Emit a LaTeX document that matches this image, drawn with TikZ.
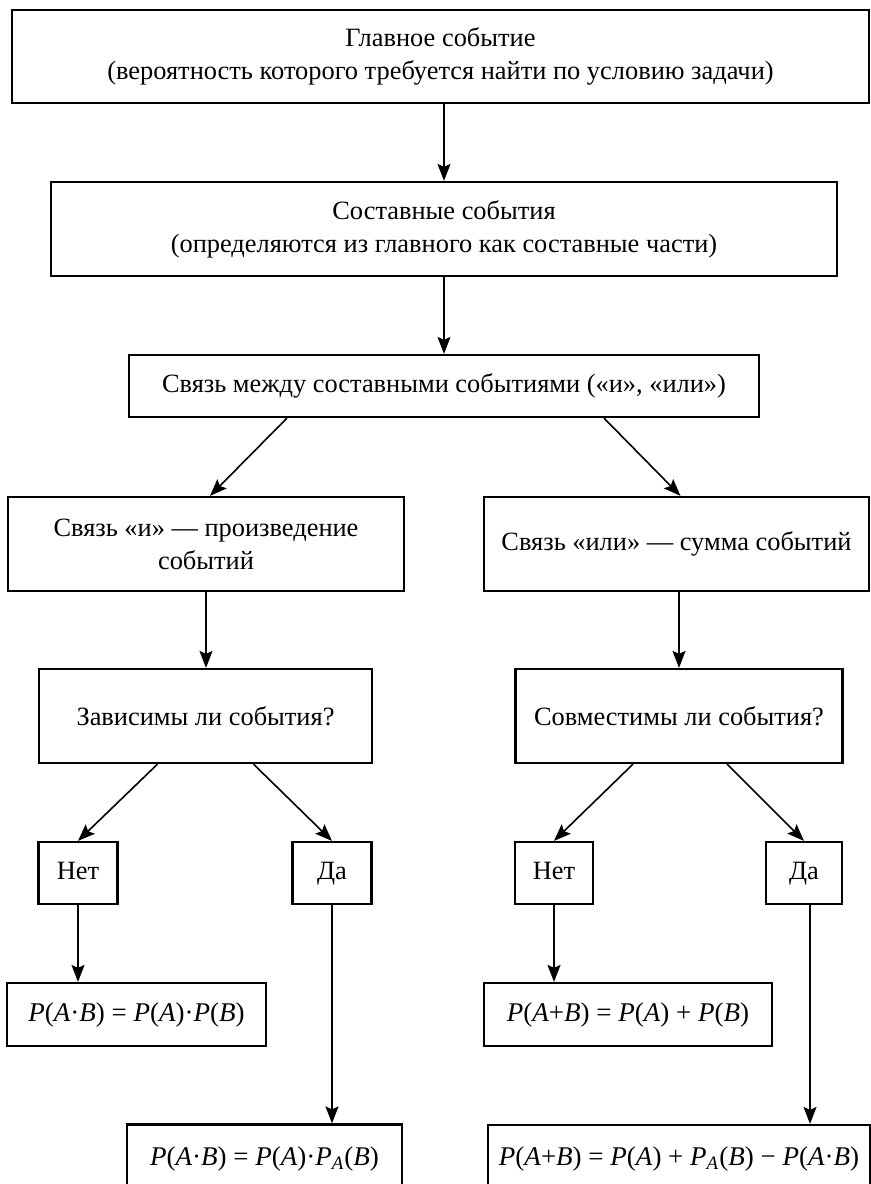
\documentclass[tikz,border=0pt]{standalone}
\usepackage{fontspec}
\setmainfont{Liberation Serif}
\usetikzlibrary{arrows.meta,calc}
\newcommand{\vi}[1]{\textit{#1}}
\begin{document}
\begin{tikzpicture}[x=0.5pt,y=-0.5pt,
  box/.style={draw,line width=1.1pt,align=center,inner sep=0pt,
    font=\fontsize{13.2}{16.5}\selectfont},
  sbox/.style={box,text height=9pt,text depth=2.5pt},
  fbox/.style={box,font=\fontsize{13.5}{16.5}\selectfont},
  arr/.style={line width=0.8pt,-{Stealth[length=8.5pt,width=6.5pt,inset=1.5pt]}}]
\useasboundingbox (0,0) rectangle (871,1184);
\clip (0,0) rectangle (871,1184);

\node[box,minimum width=428.5pt,minimum height=46.5pt] (top) at (440.5,56.5)
  {Главное событие\\(вероятность которого требуется найти по условию задачи)};
\node[box,minimum width=393pt,minimum height=47pt] (b2) at (444,229)
  {Составные события\\(определяются из главного как составные части)};
\node[box,minimum width=315pt,minimum height=31pt] (b3) at (444,386)
  {Связь между составными событиями («и», «или»)};
\node[box,minimum width=198pt,minimum height=47pt] (b4l) at (206,544)
  {Связь «и» — произведение\\событий};
\node[box,minimum width=192.5pt,minimum height=47pt] (b4r) at (676.5,544)
  {Связь «или» — сумма событий};
\node[box,minimum width=166.5pt,minimum height=47pt] (b5l) at (205.5,716)
  {Зависимы ли события?};
\node[box,minimum width=163.5pt,minimum height=47pt] (b5r) at (679,716)
  {Совместимы ли события?};
\node[sbox,minimum width=39.5pt,minimum height=31pt] (netl) at (78,873) {Нет};
\node[sbox,minimum width=39.5pt,minimum height=31pt] (dal) at (332,873) {Да};
\node[sbox,minimum width=39pt,minimum height=31pt] (netr) at (554,873) {Нет};
\node[sbox,minimum width=38pt,minimum height=31pt] (dar) at (804,873) {Да};
\node[fbox,minimum width=129.5pt,minimum height=31.5pt] (l1) at (136.5,1014.5)
  {\vi{P}(\vi{A}·\vi{B}) = \vi{P}(\vi{A})·\vi{P}(\vi{B})};
\node[fbox,minimum width=144pt,minimum height=31.5pt] (r1) at (628,1014.5)
  {\vi{P}(\vi{A}+\vi{B}) = \vi{P}(\vi{A}) + \vi{P}(\vi{B})};
\node[fbox,minimum width=137.5pt,minimum height=34pt] (l2) at (264.5,1158.5)
  {\vi{P}(\vi{A}·\vi{B}) = \vi{P}(\vi{A})·\vi{P}\textsubscript{\vi{A}}(\vi{B})};
\node[fbox,minimum width=191pt,minimum height=34pt] (r2) at (679,1159)
  {\vi{P}(\vi{A}+\vi{B}) = \vi{P}(\vi{A}) + \vi{P}\textsubscript{\vi{A}}(\vi{B}) − \vi{P}(\vi{A}·\vi{B})};

\draw[arr] (b2.north |- top.south) -- (b2.north);
\draw[arr] (b2.south) -- (b3.north);
\draw[arr] ([xshift=-78.5pt]b3.south) -- ([xshift=2pt]b4l.north);
\draw[arr] ([xshift=80pt]b3.south) -- ([xshift=2pt]b4r.north);
\draw[arr] (b4l.south) -- (b4l.south |- b5l.north);
\draw[arr] (b5r.north |- b4r.south) -- (b5r.north);
\draw[arr] ([xshift=-24pt]b5l.south) -- (netl.north);
\draw[arr] ([xshift=24pt]b5l.south) -- (dal.north);
\draw[arr] ([xshift=-23pt]b5r.south) -- (netr.north);
\draw[arr] ([xshift=24pt]b5r.south) -- (dar.north);
\draw[arr] (netl.south) -- (netl.south |- l1.north);
\draw[arr] (dal.south) -- (dal.south |- l2.north);
\draw[arr] (netr.south) -- (netr.south |- r1.north);
\draw[arr] ([xshift=3pt]dar.south) -- ([xshift=3pt]dar.south |- r2.north);
\end{tikzpicture}
\end{document}
